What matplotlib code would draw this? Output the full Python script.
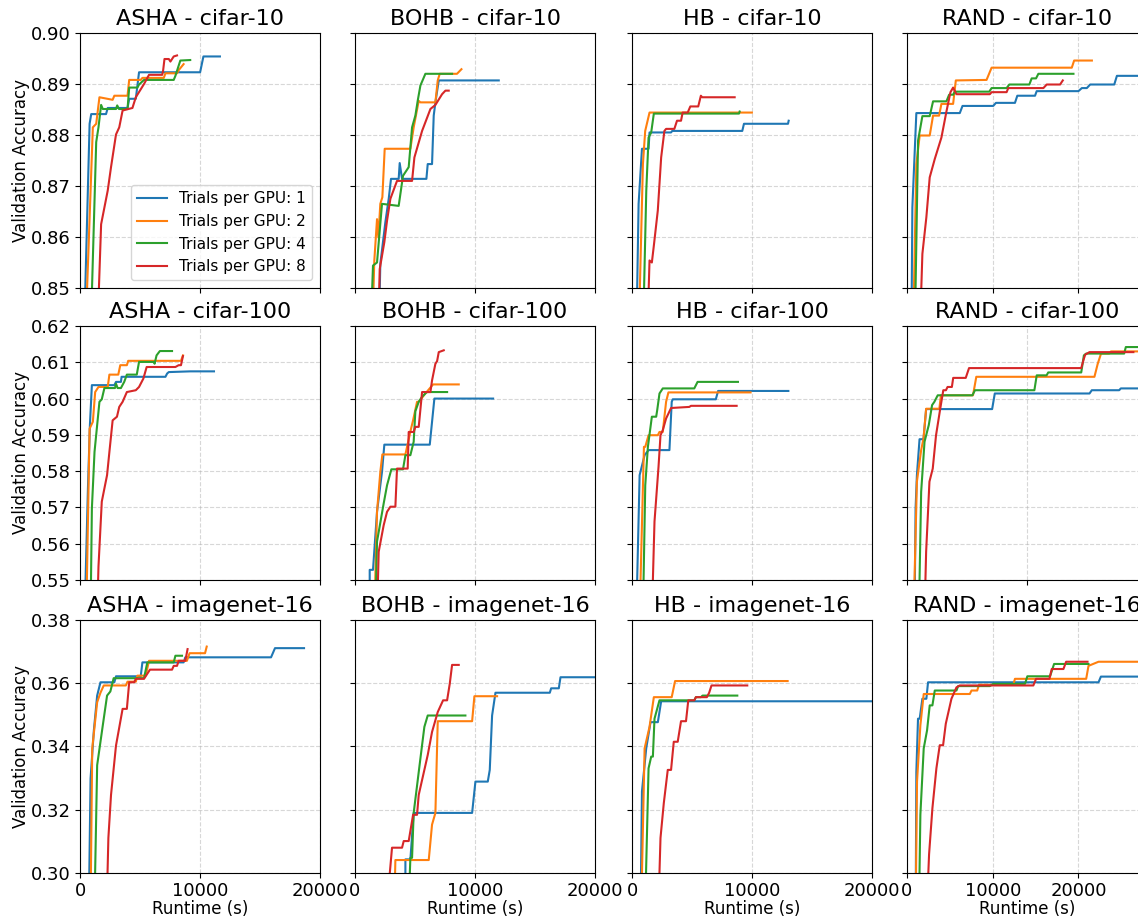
import matplotlib
matplotlib.use("Agg")
import matplotlib.pyplot as plt
import numpy as np

methods = ["ASHA", "BOHB", "HB", "RAND"]
datasets = ["cifar-10", "cifar-100", "imagenet-16"]
trials_per_gpu = [1, 2, 4, 8]

# (runtime s, best validation accuracy so far)
# --- cifar-10 ---
asha_c10_t1 = [(330, 0.84), (800, 0.8822), (935, 0.8841), (2170, 0.8841), (2310, 0.8853), (3960, 0.8853),
               (4100, 0.8871), (4650, 0.8871), (4920, 0.8923), (10010, 0.8923), (10285, 0.8954), (11660, 0.8954)]
asha_c10_t2 = [(440, 0.84), (1070, 0.8815), (1350, 0.8822), (1620, 0.8874), (2720, 0.8869), (2860, 0.8877),
               (3960, 0.8877), (4100, 0.8908), (5060, 0.8908), (5200, 0.8912), (6985, 0.8912), (7120, 0.8921),
               (8085, 0.8921), (8220, 0.8927), (8635, 0.8939)]
asha_c10_t4 = [(880, 0.84), (1350, 0.8786), (1540, 0.8815), (1760, 0.8859), (1900, 0.8851), (3000, 0.8851),
               (3100, 0.8858), (3250, 0.8851), (3960, 0.8851), (4100, 0.8893), (4785, 0.8893), (4920, 0.8899),
               (5335, 0.8908), (7810, 0.8908), (7950, 0.8916), (8360, 0.8946), (9185, 0.8947)]
asha_c10_t8 = [(1430, 0.84), (1760, 0.8625), (2310, 0.8691), (2585, 0.8737), (3000, 0.8801), (3270, 0.8815),
               (3550, 0.8848), (4370, 0.8853), (4650, 0.8874), (5335, 0.8900), (5750, 0.8918), (6850, 0.8918),
               (6930, 0.8927), (7040, 0.8949), (7400, 0.8949), (7535, 0.8944), (7810, 0.8954), (8085, 0.8956)]

bohb_c10_t1 = [(1975, 0.84), (2110, 0.8547), (2530, 0.8629), (2810, 0.8675), (3000, 0.8714), (3640, 0.8714),
               (3725, 0.8745), (3920, 0.8714), (5950, 0.8714), (6060, 0.8743), (6420, 0.8743), (6560, 0.8838),
               (6700, 0.8864), (6980, 0.8907), (11980, 0.8907)]
bohb_c10_t2 = [(1420, 0.84), (1610, 0.8554), (1835, 0.8635), (1945, 0.8599), (2110, 0.8665), (2280, 0.8678),
               (2475, 0.8773), (4615, 0.8773), (4890, 0.8815), (5310, 0.8867), (5450, 0.8864), (6700, 0.8864),
               (6895, 0.8907), (7060, 0.8920), (8500, 0.8920), (8870, 0.8929)]
bohb_c10_t4 = [(1280, 0.84), (1500, 0.8544), (1835, 0.8550), (2250, 0.8665), (3640, 0.8661), (4000, 0.8720),
               (4475, 0.8737), (4755, 0.8815), (5030, 0.8838), (5225, 0.8867), (5450, 0.8897), (5865, 0.8920),
               (8090, 0.8920)]
bohb_c10_t8 = [(1920, 0.84), (2060, 0.8537), (2445, 0.8590), (2670, 0.8632), (2950, 0.8675), (3500, 0.8710),
               (4755, 0.8710), (4950, 0.8756), (5590, 0.8808), (6285, 0.8851), (6700, 0.8859), (7255, 0.8880),
               (7535, 0.8887), (7810, 0.8887)]

hb_c10_t1 = [(360, 0.84), (550, 0.8665), (830, 0.8773), (1380, 0.8773), (1460, 0.8805), (3255, 0.8805),
             (3350, 0.8808), (9190, 0.8808), (9330, 0.8822), (13000, 0.8822), (13055, 0.8828)]
hb_c10_t2 = [(550, 0.84), (910, 0.8743), (1100, 0.8808), (1460, 0.8844), (9990, 0.8844)]
hb_c10_t4 = [(910, 0.84), (1190, 0.8691), (1380, 0.8795), (1600, 0.8805), (1820, 0.8842), (8915, 0.8842),
             (8970, 0.8846)]
hb_c10_t8 = [(1270, 0.84), (1460, 0.8554), (1655, 0.8550), (1820, 0.8583), (2150, 0.8652), (2430, 0.8756),
             (2700, 0.8808), (2840, 0.8812), (3530, 0.8812), (3750, 0.8828), (4085, 0.8828), (4220, 0.8844),
             (4640, 0.8844), (4860, 0.8856), (5520, 0.8856), (5740, 0.8877), (5850, 0.8874), (8555, 0.8874)]

rand_c10_t1 = [(510, 0.84), (625, 0.8658), (1090, 0.8843), (6160, 0.8843), (6475, 0.8857), (10060, 0.8857),
               (10375, 0.8863), (12595, 0.8863), (12870, 0.8877), (14935, 0.8877), (15130, 0.8886),
               (20000, 0.8886), (20400, 0.8892), (20980, 0.8892), (21370, 0.8899), (24180, 0.8899),
               (24490, 0.8916), (28500, 0.8916)]
rand_c10_t2 = [(700, 0.84), (1090, 0.8743), (1480, 0.8799), (2650, 0.8799), (3040, 0.8838), (3745, 0.8838),
               (4015, 0.8861), (5380, 0.8861), (5695, 0.8907), (9280, 0.8908), (9870, 0.8932), (19225, 0.8932),
               (19500, 0.8946), (21570, 0.8946)]
rand_c10_t4 = [(900, 0.84), (1290, 0.8789), (1795, 0.8837), (2650, 0.8837), (3040, 0.8866), (4600, 0.8866),
               (4915, 0.8879), (5380, 0.8879), (5575, 0.8885), (9595, 0.8885), (9870, 0.8892), (11620, 0.8892),
               (11935, 0.8899), (14275, 0.8899), (14545, 0.8911), (15055, 0.8911), (15325, 0.8920),
               (19420, 0.8920)]
rand_c10_t8 = [(1480, 0.84), (1795, 0.8567), (2260, 0.8639), (2650, 0.8717), (3240, 0.8753), (4015, 0.8795),
               (4600, 0.8846), (5070, 0.8884), (5380, 0.8893), (5770, 0.8880), (9670, 0.8880), (9870, 0.8884),
               (11620, 0.8884), (11815, 0.8892), (15910, 0.8892), (16300, 0.8899), (17860, 0.8899),
               (18175, 0.8907)]

# --- cifar-100 ---
asha_c100_t1 = [(385, 0.54), (660, 0.5752), (825, 0.5927), (990, 0.6037), (2860, 0.6037), (3000, 0.6046),
                (3410, 0.6046), (3465, 0.6060), (7120, 0.6060), (7260, 0.6069), (7400, 0.6073), (9185, 0.6075),
                (11165, 0.6075)]
asha_c100_t2 = [(520, 0.54), (800, 0.5917), (1070, 0.5936), (1265, 0.6018), (1540, 0.6032), (2310, 0.6032),
                (2450, 0.6066), (3190, 0.6066), (3355, 0.6092), (3905, 0.6092), (4015, 0.6104), (8415, 0.6104),
                (8580, 0.6119)]
asha_c100_t4 = [(880, 0.54), (990, 0.5697), (1210, 0.5853), (1620, 0.5991), (1815, 0.5998), (2035, 0.6029),
                (2915, 0.6029), (3000, 0.6041), (3135, 0.6029), (3410, 0.6029), (3685, 0.6046), (3905, 0.6066),
                (4730, 0.6066), (4920, 0.6101), (6160, 0.6101), (6215, 0.6096), (6380, 0.6119), (6655, 0.6131),
                (7670, 0.6131)]
asha_c100_t8 = [(1430, 0.54), (1540, 0.5537), (1815, 0.5716), (2255, 0.5789), (2450, 0.5853), (2720, 0.5940),
                (3080, 0.5950), (3270, 0.5977), (3550, 0.5991), (3905, 0.6018), (4650, 0.6023), (4920, 0.6032),
                (5280, 0.6055), (5555, 0.6087), (7950, 0.6087), (8220, 0.6092), (8415, 0.6092), (8580, 0.6117)]

bohb_c100_t1 = [(1225, 0.54), (1225, 0.5528), (1500, 0.5528), (1835, 0.5688), (2250, 0.5798), (2445, 0.5873),
                (6230, 0.5873), (6615, 0.6000), (11510, 0.6000)]
bohb_c100_t2 = [(1610, 0.54), (1835, 0.5688), (2110, 0.5798), (2280, 0.5846), (4200, 0.5846), (4670, 0.5917),
                (4840, 0.5940), (5170, 0.5991), (5310, 0.5991), (5865, 0.6014), (6505, 0.6039), (8645, 0.6039)]
bohb_c100_t4 = [(1695, 0.54), (1835, 0.5606), (2390, 0.5711), (2670, 0.5761), (3030, 0.5805), (4000, 0.5805),
                (4200, 0.5844), (4615, 0.5844), (4890, 0.5881), (5030, 0.5965), (5310, 0.5991), (5590, 0.6005),
                (5950, 0.6017), (6060, 0.6018), (7675, 0.6018)]
bohb_c100_t8 = [(1835, 0.54), (1975, 0.5578), (2390, 0.5651), (2670, 0.5688), (2950, 0.5702), (3365, 0.5702),
                (3500, 0.5807), (4390, 0.5807), (4475, 0.5908), (4890, 0.5908), (5030, 0.5922), (5310, 0.5922),
                (5590, 0.6018), (6285, 0.6018), (6420, 0.6050), (6700, 0.6096), (6840, 0.6103), (6980, 0.6128),
                (7395, 0.6133)]

hb_c100_t1 = [(360, 0.54), (635, 0.5789), (1050, 0.5844), (1380, 0.5858), (3120, 0.5858), (3310, 0.5991),
              (3395, 0.5998), (6985, 0.5998), (7175, 0.6021), (13030, 0.6021)]
hb_c100_t2 = [(635, 0.54), (995, 0.5867), (1105, 0.5867), (1380, 0.5899), (2150, 0.5899), (2290, 0.5908),
              (2565, 0.5908), (2840, 0.5991), (3035, 0.6017), (9880, 0.6017)]
hb_c100_t4 = [(910, 0.54), (1105, 0.5761), (1325, 0.5867), (1655, 0.5950), (2015, 0.5950), (2100, 0.5968),
              (2290, 0.6014), (2565, 0.6028), (5190, 0.6028), (5465, 0.6046), (8830, 0.6046)]
hb_c100_t8 = [(1655, 0.54), (1875, 0.5661), (2210, 0.5812), (2375, 0.5899), (2565, 0.5913), (2840, 0.5945),
              (3255, 0.5974), (4775, 0.5977), (4915, 0.5980), (8720, 0.5980)]

rand_c100_t1 = [(630, 0.54), (715, 0.5697), (825, 0.5789), (1045, 0.5888), (1375, 0.5888), (1595, 0.5971),
                (7095, 0.5971), (7315, 0.6014), (15210, 0.6014), (15400, 0.6023), (17680, 0.6023),
                (17820, 0.6028), (21000, 0.6028)]
rand_c100_t2 = [(550, 0.54), (825, 0.5771), (1180, 0.5858), (1375, 0.5890), (1595, 0.5972), (2695, 0.5972),
                (2830, 0.6009), (5500, 0.6009), (5775, 0.6060), (15620, 0.6060), (15895, 0.6096),
                (16170, 0.6124), (16855, 0.6124), (16995, 0.6130), (21000, 0.6130)]
rand_c100_t4 = [(990, 0.54), (1180, 0.5743), (1460, 0.5881), (1815, 0.5927), (2090, 0.5982), (2280, 0.5991),
                (2560, 0.6009), (5445, 0.6009), (5665, 0.6023), (10615, 0.6023), (10810, 0.6064),
                (11630, 0.6064), (11770, 0.6072), (14520, 0.6072), (14740, 0.6119), (14930, 0.6124),
                (18095, 0.6124), (18235, 0.6142), (21000, 0.6142)]
rand_c100_t8 = [(1460, 0.54), (1595, 0.5578), (1870, 0.5771), (2145, 0.5807), (2420, 0.5899), (2750, 0.5968),
                (3025, 0.6023), (3245, 0.6023), (3380, 0.6032), (3740, 0.6032), (3850, 0.6057), (4895, 0.6057),
                (5170, 0.6084), (14520, 0.6084), (14740, 0.6110), (14850, 0.6121), (15210, 0.6128),
                (18865, 0.6128)]

# --- imagenet-16 ---
asha_in16_t1 = [(740, 0.29), (880, 0.3299), (1155, 0.3451), (1430, 0.3561), (1705, 0.3603), (2860, 0.3603),
                (3000, 0.3622), (5060, 0.3622), (5200, 0.3666), (8635, 0.3666), (8775, 0.3682), (15920, 0.3682),
                (16250, 0.3711), (18670, 0.3711)]
asha_in16_t2 = [(880, 0.29), (1020, 0.3394), (1430, 0.3540), (1705, 0.3570), (1980, 0.3593), (3820, 0.3593),
                (3960, 0.3605), (4650, 0.3605), (4785, 0.3624), (5475, 0.3624), (5750, 0.3671), (8910, 0.3671),
                (9130, 0.3695), (10420, 0.3695), (10560, 0.3716)]
asha_in16_t4 = [(1210, 0.29), (1430, 0.3341), (1900, 0.3467), (2255, 0.3561), (2530, 0.3574), (2805, 0.3616),
                (5335, 0.3616), (5610, 0.3666), (7810, 0.3666), (7950, 0.3687), (8500, 0.3687)]
asha_in16_t8 = [(2230, 0.29), (2365, 0.3111), (2585, 0.3247), (3000, 0.3403), (3550, 0.3519), (3905, 0.3519),
                (4100, 0.3603), (4510, 0.3603), (4650, 0.3614), (5335, 0.3614), (5830, 0.3643), (7670, 0.3643),
                (7810, 0.3655), (8085, 0.3655), (8220, 0.3671), (8775, 0.3671), (8965, 0.3708)]

bohb_in16_t1 = [(4200, 0.29), (4200, 0.3043), (4615, 0.3043), (4890, 0.3190), (9760, 0.3190), (10035, 0.3289),
                (11065, 0.3289), (11230, 0.3326), (11425, 0.3498), (11705, 0.3570), (16235, 0.3570),
                (16345, 0.3584), (16985, 0.3584), (17125, 0.3619), (20500, 0.3619)]
bohb_in16_t2 = [(3280, 0.29), (3365, 0.3041), (6145, 0.3041), (6420, 0.3153), (6700, 0.3190), (6895, 0.3480),
                (9760, 0.3480), (9950, 0.3559), (11840, 0.3559)]
bohb_in16_t4 = [(4475, 0.29), (4615, 0.3048), (4755, 0.3048), (4890, 0.3190), (5450, 0.3362), (5780, 0.3462),
                (6060, 0.3498), (9200, 0.3498)]
bohb_in16_t8 = [(2670, 0.29), (3085, 0.3080), (3920, 0.3080), (4060, 0.3101), (4475, 0.3101), (4840, 0.3184),
                (5170, 0.3184), (5310, 0.3247), (6060, 0.3373), (6420, 0.3446), (6895, 0.3509), (7340, 0.3546),
                (7675, 0.3546), (7895, 0.3598), (8090, 0.3658), (8645, 0.3658)]

hb_in16_t1 = [(720, 0.29), (830, 0.3258), (1185, 0.3394), (1545, 0.3477), (2155, 0.3477), (2430, 0.3543),
              (20500, 0.3543)]
hb_in16_t2 = [(775, 0.29), (1050, 0.3394), (1460, 0.3462), (1820, 0.3556), (3310, 0.3556), (3590, 0.3607),
              (12970, 0.3607)]
hb_in16_t4 = [(1105, 0.29), (1380, 0.3331), (1600, 0.3368), (1740, 0.3368), (1875, 0.3488), (2290, 0.3546),
              (5190, 0.3546), (5325, 0.3556), (5740, 0.3556), (5880, 0.3561), (8775, 0.3561)]
hb_in16_t8 = [(2210, 0.29), (2375, 0.3111), (2650, 0.3221), (2980, 0.3326), (3255, 0.3326), (3480, 0.3415),
              (3810, 0.3415), (4085, 0.3480), (4500, 0.3480), (4690, 0.3546), (5190, 0.3546), (5325, 0.3556),
              (6240, 0.3556), (6430, 0.3570), (6625, 0.3593), (9605, 0.3593)]

rand_in16_t1 = [(1015, 0.29), (1090, 0.3320), (1285, 0.3488), (1480, 0.3488), (1795, 0.3551), (2260, 0.3551),
                (2455, 0.3603), (22345, 0.3603), (22620, 0.3621), (28500, 0.3621)]
rand_in16_t2 = [(1015, 0.29), (1170, 0.3289), (1560, 0.3467), (1950, 0.3566), (7330, 0.3566), (7525, 0.3577),
                (8190, 0.3577), (8400, 0.3595), (12400, 0.3595), (12595, 0.3614), (20905, 0.3614),
                (21175, 0.3655), (22345, 0.3668), (28500, 0.3668)]
rand_in16_t4 = [(1405, 0.29), (1560, 0.3184), (1950, 0.3394), (2340, 0.3451), (2650, 0.3530), (2965, 0.3530),
                (3240, 0.3577), (5770, 0.3577), (5965, 0.3591), (9670, 0.3591), (10060, 0.3598),
                (13765, 0.3598), (14040, 0.3622), (16690, 0.3622), (17160, 0.3661), (21175, 0.3661)]
rand_in16_t8 = [(2340, 0.29), (2575, 0.3059), (2965, 0.3205), (3430, 0.3331), (3820, 0.3404), (4210, 0.3404),
                (4525, 0.3472), (5185, 0.3551), (5770, 0.3587), (6160, 0.3593), (14740, 0.3593),
                (15055, 0.3614), (16615, 0.3614), (16885, 0.3645), (18250, 0.3645), (18565, 0.3668),
                (21060, 0.3668)]

curves = {
    ("ASHA", "cifar-10"): [asha_c10_t1, asha_c10_t2, asha_c10_t4, asha_c10_t8],
    ("BOHB", "cifar-10"): [bohb_c10_t1, bohb_c10_t2, bohb_c10_t4, bohb_c10_t8],
    ("HB", "cifar-10"): [hb_c10_t1, hb_c10_t2, hb_c10_t4, hb_c10_t8],
    ("RAND", "cifar-10"): [rand_c10_t1, rand_c10_t2, rand_c10_t4, rand_c10_t8],
    ("ASHA", "cifar-100"): [asha_c100_t1, asha_c100_t2, asha_c100_t4, asha_c100_t8],
    ("BOHB", "cifar-100"): [bohb_c100_t1, bohb_c100_t2, bohb_c100_t4, bohb_c100_t8],
    ("HB", "cifar-100"): [hb_c100_t1, hb_c100_t2, hb_c100_t4, hb_c100_t8],
    ("RAND", "cifar-100"): [rand_c100_t1, rand_c100_t2, rand_c100_t4, rand_c100_t8],
    ("ASHA", "imagenet-16"): [asha_in16_t1, asha_in16_t2, asha_in16_t4, asha_in16_t8],
    ("BOHB", "imagenet-16"): [bohb_in16_t1, bohb_in16_t2, bohb_in16_t4, bohb_in16_t8],
    ("HB", "imagenet-16"): [hb_in16_t1, hb_in16_t2, hb_in16_t4, hb_in16_t8],
    ("RAND", "imagenet-16"): [rand_in16_t1, rand_in16_t2, rand_in16_t4, rand_in16_t8],
}

ylims = [(0.85, 0.90), (0.55, 0.62), (0.30, 0.38)]
yticks = [np.arange(0.85, 0.9001, 0.01), np.arange(0.55, 0.6201, 0.01), np.arange(0.30, 0.3801, 0.02)]

W, H = 1138, 919
fig = plt.figure(figsize=(W / 100, H / 100), dpi=100)

col_left = [80, 355, 632, 907]
row_top = [33, 326, 620]
row_bottom = [288, 580, 873]
ax_w = 240

for r, ds in enumerate(datasets):
    for c, m in enumerate(methods):
        ax = fig.add_axes([col_left[c] / W, 1 - row_bottom[r] / H,
                           ax_w / W, (row_bottom[r] - row_top[r]) / H])
        for i, n in enumerate(trials_per_gpu):
            pts = np.array(curves[(m, ds)][i])
            ax.plot(pts[:, 0], pts[:, 1], color=f"C{i}", lw=1.5,
                    label=f"Trials per GPU: {n}")

        # RAND column runs longer, except on cifar-100 where it is cut at 20000
        if m == "RAND" and ds != "cifar-100":
            ax.set_xlim(0, 28000)
        else:
            ax.set_xlim(0, 20000)
        ax.set_xticks([0, 10000, 20000])
        ax.set_ylim(*ylims[r])
        ax.set_yticks(yticks[r])
        ax.grid(True, linestyle="--", color="#b0b0b0", alpha=0.5, lw=0.8)
        ax.tick_params(labelsize=13, pad=3)
        ax.set_title(f"{m} - {ds}", fontsize=16)

        if c == 0:
            ax.set_ylabel("Validation Accuracy", fontsize=12, labelpad=1)
            ax.set_yticklabels([f"{v:.2f}" for v in yticks[r]])
        else:
            ax.set_yticklabels([])
        if r == len(datasets) - 1:
            ax.set_xlabel("Runtime (s)", fontsize=12, labelpad=0)
        else:
            ax.set_xticklabels([])
        if r == 0 and c == 0:
            ax.legend(loc="lower right", fontsize=11)

plt.savefig("out.png", dpi=100)
